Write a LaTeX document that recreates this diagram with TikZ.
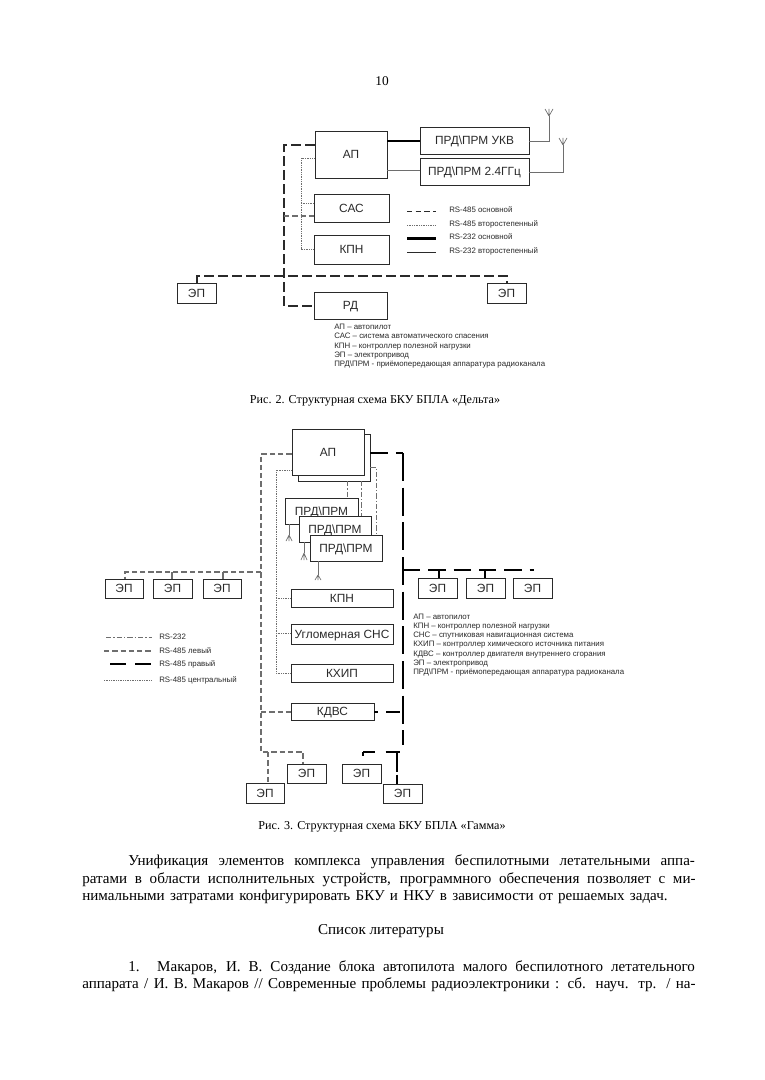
\documentclass[tikz,border=0pt]{standalone}
\usepackage{fontspec}
\setmainfont{Liberation Serif}
\newfontfamily\sansf{Liberation Sans}
\usetikzlibrary{calc}
\definecolor{ink}{HTML}{2A2A2A}
\definecolor{gline}{HTML}{6E6E6E}
\newcommand{\bx}[6]{%
  \pgfmathsetmacro\bw{(#4-#2)*0.75}%
  \pgfmathsetmacro\bh{(#5-#3)*0.75}%
  \node[boxn,minimum width=\bw pt,minimum height=\bh pt] (#1) at ({(#2+#4)/2},{(#3+#5)/2}) {#6};}
\newcommand{\smallt}[4]{\node[smalltext] (#1) at (#2,#3+2) {#4};}
\newcommand{\bodyl}[5]{\node[bodyt] (#1) at (#2,#3) {\makebox[#4pt][s]{#5}};}
\tikzset{
  boxn/.style={draw=ink,line width=0.65pt,fill=white,inner sep=0pt,text height=6.4pt,text depth=0pt,font=\sansf\fontsize{8.9pt}{10pt}\selectfont,text=ink},
  prlabel/.style={inner sep=0pt,text height=6.4pt,text depth=0pt,font=\sansf\fontsize{8.9pt}{10pt}\selectfont,text=ink},
  smalltext/.style={anchor=base west,inner sep=0pt,font=\sansf\fontsize{5.9pt}{7pt}\selectfont,text=ink},
  bodyt/.style={anchor=west,inner sep=0pt,font=\fontsize{11.3pt}{13pt}\selectfont,text=black},
  captiont/.style={inner sep=0pt,font=\fontsize{9.1pt}{11pt}\selectfont,text=black},
  mainbus/.style={draw=ink,line width=1.1pt,dash pattern=on 7pt off 3.5pt},
  leftbus/.style={draw=gline,line width=0.8pt,dash pattern=on 4pt off 2.2pt},
  rightv/.style={draw=black,line width=1.5pt,dash pattern=on 21pt off 5pt},
  righth/.style={draw=black,line width=1.5pt,dash pattern=on 13pt off 6pt},
  dots/.style={draw=gline,line width=0.7pt,dash pattern=on 0.7pt off 0.6pt},
  dashdot/.style={draw=gline,line width=0.7pt,dash pattern=on 4pt off 1.5pt on 1pt off 1.5pt},
  thickl/.style={draw=black,line width=1.6pt},
  thinl/.style={draw=gline,line width=0.7pt},
  ant/.style={draw=gline,line width=0.5pt},
}
\begin{document}
\begin{tikzpicture}[x=0.75pt,y=-0.75pt]
\useasboundingbox (0,0) rectangle (764,1080);
\fill[white] (0,0) rectangle (764,1080);

\node[captiont,font=\fontsize{10pt}{12pt}\selectfont] (pg) at (382,81) {10};

% ---------- Figure 2 ----------
\bx{apA}{315}{131}{387}{178}{АП}
\bx{ukv}{420}{127}{529}{154}{ПРД\textbackslash ПРМ УКВ}
\bx{ghz}{420}{158}{529}{185}{ПРД\textbackslash ПРМ 2.4ГГц}
\bx{sas}{314}{194}{389}{222}{САС}
\bx{kpnA}{314}{235}{389}{264}{КПН}
\bx{epL}{177}{283}{216}{303}{ЭП}
\bx{epR}{487}{283}{526}{303}{ЭП}
\bx{rd}{314}{292}{387}{319}{РД}

\coordinate (mTop) at (284,145);
\coordinate (mBot) at (284,306);
\coordinate (mSas) at (284,216);
\coordinate (hL) at (197,276);
\coordinate (hR) at (507,276);
\coordinate (dTop) at (301,158);
\coordinate (dSas) at (301,203);
\coordinate (dKpn) at (301,249);

\draw[mainbus] (apA.west |- mTop) -- (mTop) -- (mBot) -- (rd.west |- mBot);
\draw[leftbus] (mSas) -- (sas.west |- mSas);
\draw[mainbus] (epL.north -| hL) -- (hL) -- (hR) -- (epR.north -| hR);
\draw[dots] (apA.west |- dTop) -- (dTop) -- (dKpn) -- (kpnA.west |- dKpn);
\draw[dots] (dSas) -- (sas.west |- dSas);
\coordinate (t1) at (387,141);
\draw[thickl] (t1) -- (ukv.west |- t1);
\coordinate (t2) at (387,170);
\draw[thinl] (t2) -- (ghz.west |- t2);

\coordinate (a1b) at (549,141);
\coordinate (a1t) at (549,116);
\draw[thinl] (ukv.east |- a1b) -- (a1b) -- (a1t);
\draw[ant] (a1t) -- (545,109) (a1t) -- (553,109) (a1t) -- (549,109);
\coordinate (a2b) at (563,172);
\coordinate (a2t) at (563,145);
\draw[thinl] (ghz.east |- a2b) -- (a2b) -- (a2t);
\draw[ant] (a2t) -- (559,138) (a2t) -- (567,138) (a2t) -- (563,138);

% legend
\coordinate (l1a) at (407,211); \coordinate (l1b) at (436,211);
\coordinate (l2a) at (407,225); \coordinate (l2b) at (436,225);
\coordinate (l3a) at (407,238.5); \coordinate (l3b) at (436,238.5);
\coordinate (l4a) at (407,252); \coordinate (l4b) at (436,252);
\draw[draw=ink,line width=0.7pt,dash pattern=on 4pt off 2.5pt] (l1a) -- (l1b);
\draw[dots] (l2a) -- (l2b);
\draw[thickl] (l3a) -- (l3b);
\draw[draw=ink,line width=0.5pt] (l4a) -- (l4b);
\smallt{lt1}{449}{210.5}{RS-485 основной}
\smallt{lt2}{449}{224.5}{RS-485 второстепенный}
\smallt{lt3}{449}{238}{RS-232 основной}
\smallt{lt4}{449}{252}{RS-232 второстепенный}

\smallt{ab1}{334}{327}{АП – автопилот}
\smallt{ab2}{334}{336.5}{САС – система автоматического спасения}
\smallt{ab3}{334}{346}{КПН – контроллер полезной нагрузки}
\smallt{ab4}{334}{355}{ЭП – электропривод}
\smallt{ab5}{334}{364.5}{ПРД\textbackslash ПРМ - приёмопередающая аппаратура радиоканала}

\node[captiont] (cap2) at (375,401) {Рис. 2. Структурная схема БКУ БПЛА «Дельта»};

% ---------- Figure 3 ----------
\bx{apBk}{298}{434}{370}{481}{}
\bx{apB}{292}{429}{364}{475}{АП}
\bx{pr1}{285}{498}{358}{524}{}
\node[prlabel] (pr1t) at (321.5,511) {ПРД\textbackslash ПРМ};
\bx{pr2}{299}{516}{371}{542}{}
\node[prlabel] (pr2t) at (335,529) {ПРД\textbackslash ПРМ};
\bx{pr3}{310}{535}{382}{561}{ПРД\textbackslash ПРМ}
\bx{kpnB}{291}{589}{393}{607}{КПН}
\bx{sns}{291}{624}{393}{644}{Угломерная СНС}
\bx{khip}{291}{664}{393}{682}{КХИП}
\bx{kdvs}{291}{703}{374}{720}{КДВС}
\bx{e1}{105}{579}{143}{598}{ЭП}
\bx{e2}{153}{579}{192}{598}{ЭП}
\bx{e3}{203}{579}{241}{598}{ЭП}
\bx{e4}{418}{578}{457}{598}{ЭП}
\bx{e5}{466}{578}{505}{598}{ЭП}
\bx{e6}{513}{578}{552}{598}{ЭП}
\bx{e7}{287}{764}{326}{783}{ЭП}
\bx{e8}{342}{764}{381}{783}{ЭП}
\bx{e9}{246}{783}{284}{803}{ЭП}
\bx{e10}{383}{784}{422}{803}{ЭП}

% left bus
\coordinate (lTop) at (261,454);
\coordinate (lBot) at (261,752);
\coordinate (lEp) at (261,572);
\coordinate (lEpL) at (125,572);
\coordinate (lKd) at (261,712);
\coordinate (lB1) at (303,752);
\coordinate (lB2) at (268,752);
\draw[leftbus] (apB.west |- lTop) -- (lTop) -- (lBot) -- (lB1) -- (e7.north -| lB1);
\draw[leftbus] (lEp) -- (lEpL) -- (e1.north -| lEpL);
\coordinate (lS2) at (172,572); \coordinate (lS3) at (223,572);
\draw[leftbus,dash pattern=] (lS2) -- (e2.north -| lS2);
\draw[leftbus,dash pattern=] (lS3) -- (e3.north -| lS3);
\draw[leftbus] (lKd) -- (kdvs.west |- lKd);
\draw[leftbus] (lB2) -- (e9.north -| lB2);

% centre dotted bus
\coordinate (dT) at (276,470);
\coordinate (dK) at (276,598);
\coordinate (dS) at (276,633);
\coordinate (dH) at (276,673);
\draw[dots] (apB.west |- dT) -- (dT) -- (dH) -- (khip.west |- dH);
\draw[dots] (dK) -- (kpnB.west |- dK);
\draw[dots] (dS) -- (sns.west |- dS);

% right bus
\coordinate (rTop) at (403,453);
\coordinate (rBot) at (403,745);
\coordinate (rJ) at (403,570);
\coordinate (rEnd) at (534,570);
\coordinate (rK) at (403,712);
\coordinate (rS4) at (439,570);
\coordinate (rS5) at (485,570);
\coordinate (rB) at (400,752);
\coordinate (rBL) at (363,752);
\coordinate (rBS) at (397,752);
\draw[righth] (apBk.east |- rTop) -- (rTop);
\draw[rightv] (rTop) -- (rBot);
\draw[righth] (rJ) -- (rEnd);
\draw[draw=black,line width=1.1pt] (rS4) -- (e4.north -| rS4);
\draw[draw=black,line width=1.1pt] (rS5) -- (e5.north -| rS5);
\draw[righth,dash pattern=on 3pt off 6pt on 10pt off 100pt] (kdvs.east |- rK) -- (rK);
\draw[draw=black,line width=1.1pt] (403,706) -- (403,718);
\draw[righth,dash pattern=on 9pt off 8pt on 12pt off 100pt] (rBL) -- (rB);
\draw[draw=black,line width=1.2pt] (rBL) -- (363,755.5);
\draw[draw=black,line width=1.5pt,dash pattern=on 15pt off 2pt on 10pt off 100pt] (rBS) -- (e10.north -| rBS);

% RS-232 dash-dot
\coordinate (c1) at (347,481); \coordinate (c2) at (361,481);
\coordinate (c3) at (376,467);
\draw[dashdot] (c1) -- (pr1.north -| c1);
\draw[dashdot] (c2) -- (pr2.north -| c2);
\draw[dashdot] (apBk.east |- c3) -- (c3) -- (pr3.north -| c3);

% antennas
\coordinate (x1) at (289,535);
\coordinate (x2) at (304,553);
\coordinate (x3) at (318,575);
\draw[thinl] (pr1.south -| x1) -- (x1);
\draw[ant] (x1) -- (286,541) (x1) -- (292,541) (x1) -- (289,541);
\draw[thinl] (pr2.south -| x2) -- (x2);
\draw[ant] (x2) -- (301,560) (x2) -- (307,560) (x2) -- (304,560);
\draw[thinl] (pr3.south -| x3) -- (x3);
\draw[ant] (x3) -- (315,580) (x3) -- (321,580) (x3) -- (318,580);

% legend
\coordinate (m1a) at (106,637); \coordinate (m1b) at (152,637);
\coordinate (m2a) at (104,651); \coordinate (m2b) at (152,651);
\coordinate (m3a) at (110,664); \coordinate (m3b) at (152,664);
\coordinate (m4a) at (104,680); \coordinate (m4b) at (152,680);
\draw[dashdot] (m1a) -- (m1b);
\draw[leftbus] (m2a) -- (m2b);
\draw[draw=black,line width=1.5pt,dash pattern=on 12pt off 7pt] (m3a) -- (m3b);
\draw[dots] (m4a) -- (m4b);
\smallt{mt1}{159}{637}{RS-232}
\smallt{mt2}{159}{651}{RS-485 левый}
\smallt{mt3}{159}{664.5}{RS-485 правый}
\smallt{mt4}{159}{680}{RS-485 центральный}

\smallt{q1}{413}{617}{АП – автопилот}
\smallt{q2}{413}{626}{КПН – контроллер полезной нагрузки}
\smallt{q3}{413}{635}{СНС – спутниковая навигационная система}
\smallt{q4}{413}{644.5}{КХИП – контроллер химического источника питания}
\smallt{q5}{413}{654}{КДВС – контроллер двигателя внутреннего сгорания}
\smallt{q6}{413}{663}{ЭП – электропривод}
\smallt{q7}{413}{672.5}{ПРД\textbackslash ПРМ - приёмопередающая аппаратура радиоканала}

\node[captiont] (cap3) at (382,827) {Рис. 3. Структурная схема БКУ БПЛА «Гамма»};

% ---------- Body text ----------
\bodyl{b1}{128}{862}{425}{Унификация элементов комплекса управления беспилотными летательными аппа-}
\bodyl{b2}{82}{880}{460}{ратами в области исполнительных устройств, программного обеспечения позволяет с ми-}
\bodyl{b3}{82}{897}{439}{нимальными затратами конфигурировать БКУ и НКУ в зависимости от решаемых задач.}
\node[bodyt,anchor=center] (b4) at (381,931) {Список литературы};
\bodyl{b5}{128}{968}{425}{1. Макаров, И. В. Создание блока автопилота малого беспилотного летательного}
\bodyl{b6}{82}{985}{460}{аппарата / И. В. Макаров // Современные проблемы радиоэлектроники : сб. науч. тр. / на-}
\end{tikzpicture}
\end{document}
